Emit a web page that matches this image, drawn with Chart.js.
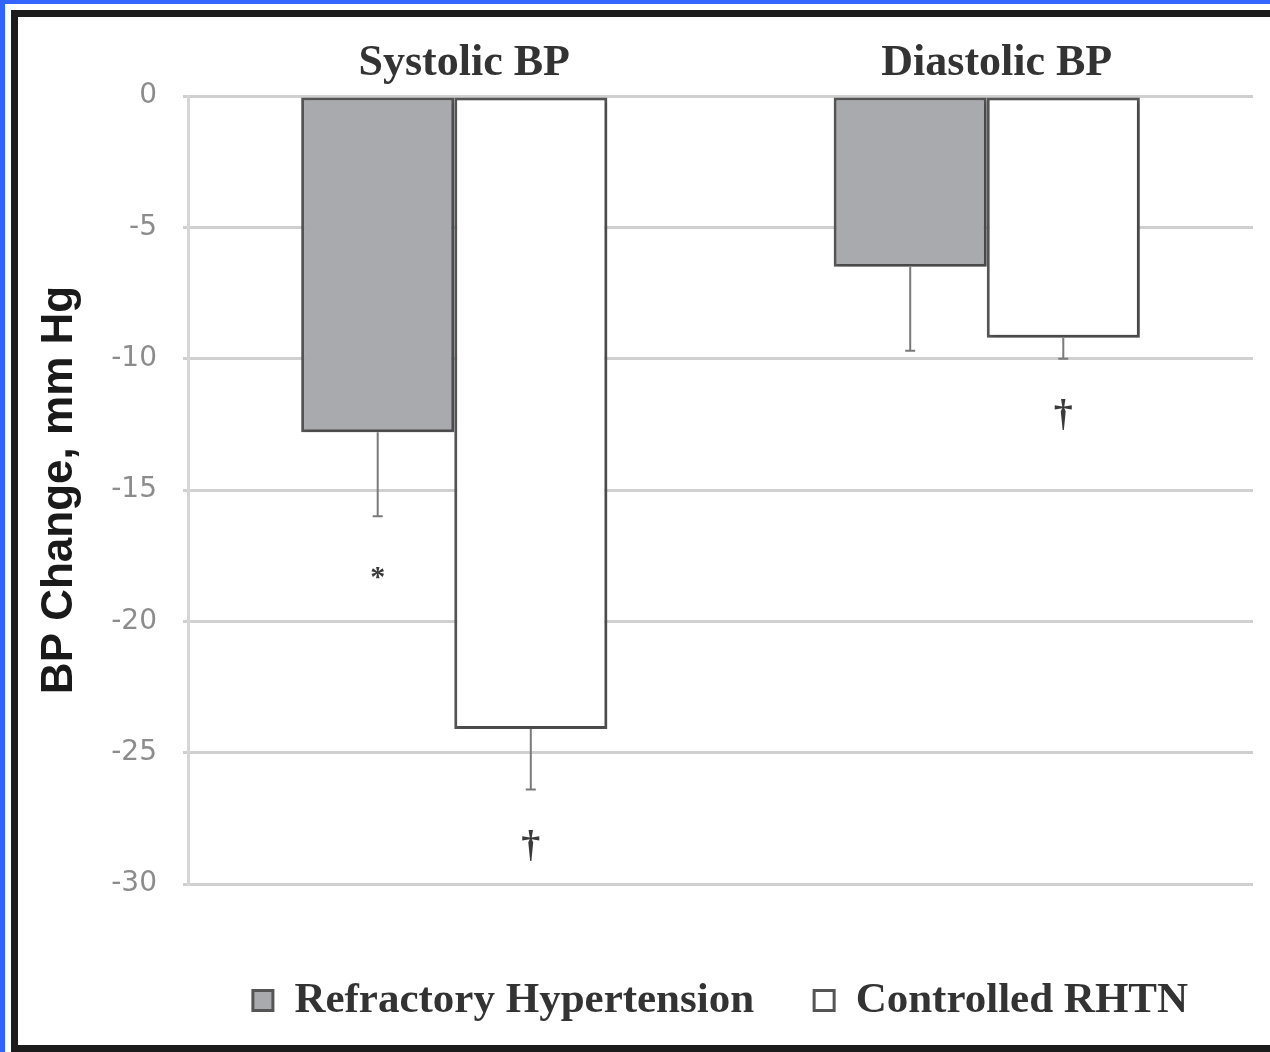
<!DOCTYPE html>
<html>
<head>
<meta charset="utf-8">
<script src="https://cdn.jsdelivr.net/npm/chart.js@4.4.1/dist/chart.umd.min.js"></script>
<style>
  html, body { margin: 0; padding: 0; background: #ffffff; }
  body { width: 1270px; height: 1052px; position: relative; overflow: hidden; }
  .edge-blue-top { position: absolute; left: 0; top: 0; width: 1270px; height: 4px; background: #3264ff; }
  .edge-blue-left { position: absolute; left: 0; top: 0; width: 5px; height: 1052px; background: #3264ff; }
  .frame { position: absolute; left: 11px; top: 10px; width: 1270px; height: 1028px;
           border-left: 7px solid #1c1c1c; border-top: 7px solid #1c1c1c; border-bottom: 7px solid #1c1c1c; }
  #wrap { position: absolute; left: 18px; top: 17px; width: 1252px; height: 1028px; }
</style>
</head>
<body>
<div class="edge-blue-top"></div>
<div class="edge-blue-left"></div>
<div class="frame"></div>
<div id="wrap"><canvas id="bp"></canvas></div>
<script>
// Mean change in blood pressure (mm Hg) with standard errors
const categories = ['Systolic BP', 'Diastolic BP'];
const refractoryMean = [-12.8, -6.5];
const refractoryErr = [3.2, 3.2];
const controlledMean = [-24.1, -9.2];
const controlledErr = [2.3, 0.8];
// significance markers drawn below each error bar
const refractoryMarks = ['*', ''];
const controlledMarks = ['\u2020', '\u2020'];
const yTicks = [0, -5, -10, -15, -20, -25, -30];

const serifBold = { family: '"Liberation Serif", "Times New Roman", serif', weight: 'bold' };

// shadow behind the bars
const barShadow = {
  id: 'barShadow',
  beforeDatasetsDraw(chart) {
    const ctx = chart.ctx;
    ctx.save();
    ctx.shadowColor = 'rgba(0,0,0,0.22)';
    ctx.shadowBlur = 4;
    ctx.shadowOffsetX = 2;
    ctx.shadowOffsetY = 2;
  },
  afterDatasetsDraw(chart) {
    chart.ctx.restore();
  }
};

// downward error bars plus significance symbols
const errorBars = {
  id: 'errorBars',
  afterDatasetsDraw(chart) {
    const ctx = chart.ctx;
    const y = chart.scales.y;
    chart.data.datasets.forEach((ds, i) => {
      const meta = chart.getDatasetMeta(i);
      meta.data.forEach((bar, j) => {
        const mean = ds.data[j];
        const end = y.getPixelForValue(mean - ds.errors[j]);
        ctx.save();
        ctx.strokeStyle = '#7a7a7a';
        ctx.lineWidth = 2;
        ctx.beginPath();
        ctx.moveTo(bar.x, bar.y);
        ctx.lineTo(bar.x, end);
        ctx.moveTo(bar.x - 5, end);
        ctx.lineTo(bar.x + 5, end);
        ctx.stroke();
        const mark = ds.marks[j];
        if (mark) {
          ctx.fillStyle = '#3a3a3a';
          ctx.textAlign = 'center';
          ctx.textBaseline = 'middle';
          if (mark === '*') {
            ctx.font = 'bold 30px "Liberation Serif", serif';
            ctx.fillText(mark, bar.x, end + 62);
          } else {
            ctx.font = 'bold 38px "Liberation Serif", serif';
            ctx.fillText(mark, bar.x, end + 58);
          }
        }
        ctx.restore();
      });
    });
  }
};

new Chart(document.getElementById('bp'), {
  type: 'bar',
  data: {
    labels: categories,
    datasets: [
      {
        label: 'Refractory Hypertension',
        data: refractoryMean,
        errors: refractoryErr,
        marks: refractoryMarks,
        backgroundColor: '#a8aaad',
        borderColor: '#555555',
        borderWidth: 3,
        borderSkipped: false
      },
      {
        label: 'Controlled RHTN',
        data: controlledMean,
        errors: controlledErr,
        marks: controlledMarks,
        backgroundColor: '#ffffff',
        borderColor: '#555555',
        borderWidth: 3,
        borderSkipped: false
      }
    ]
  },
  options: {
    responsive: true,
    maintainAspectRatio: false,
    animation: false,
    layout: { padding: { left: 0, right: 17, top: 0, bottom: 13 } },
    datasets: { bar: { categoryPercentage: 0.575, barPercentage: 1.0 } },
    plugins: {
      tooltip: { enabled: false },
      legend: {
        position: 'bottom',
        fullSize: false,
        title: { display: true, text: ' ', font: { size: 10 }, padding: { top: 23, bottom: 0 } },
        labels: {
          boxWidth: 20,
          boxHeight: 20,
          padding: 60,
          color: '#333333',
          font: { ...serifBold, size: 43 }
        }
      }
    },
    scales: {
      x: {
        position: 'top',
        grid: { display: false, drawTicks: false },
        border: { display: false },
        ticks: { color: '#333333', font: { ...serifBold, size: 44 }, padding: 6, labelOffset: 10 },
        afterFit(scale) { scale.height = 79; }
      },
      y: {
        min: -30,
        max: 0,
        afterBuildTicks(scale) { scale.ticks = yTicks.map(v => ({ value: v })); },
        grid: { color: '#d0d0d0', lineWidth: 3, tickLength: 5 },
        border: { color: '#d6d6d6', width: 3 },
        ticks: {
          color: '#8c8c8c',
          padding: 26,
          font: { family: '"DejaVu Sans", sans-serif', size: 28 }
        },
        title: {
          display: true,
          text: 'BP Change, mm Hg',
          color: '#1a1a1a',
          padding: { top: 15, bottom: 0 },
          font: { family: '"Liberation Sans", Arial, sans-serif', weight: 'bold', size: 44 }
        },
        afterFit(scale) { scale.width = 170; }
      }
    }
  },
  plugins: [barShadow, errorBars]
});
</script>
</body>
</html>
